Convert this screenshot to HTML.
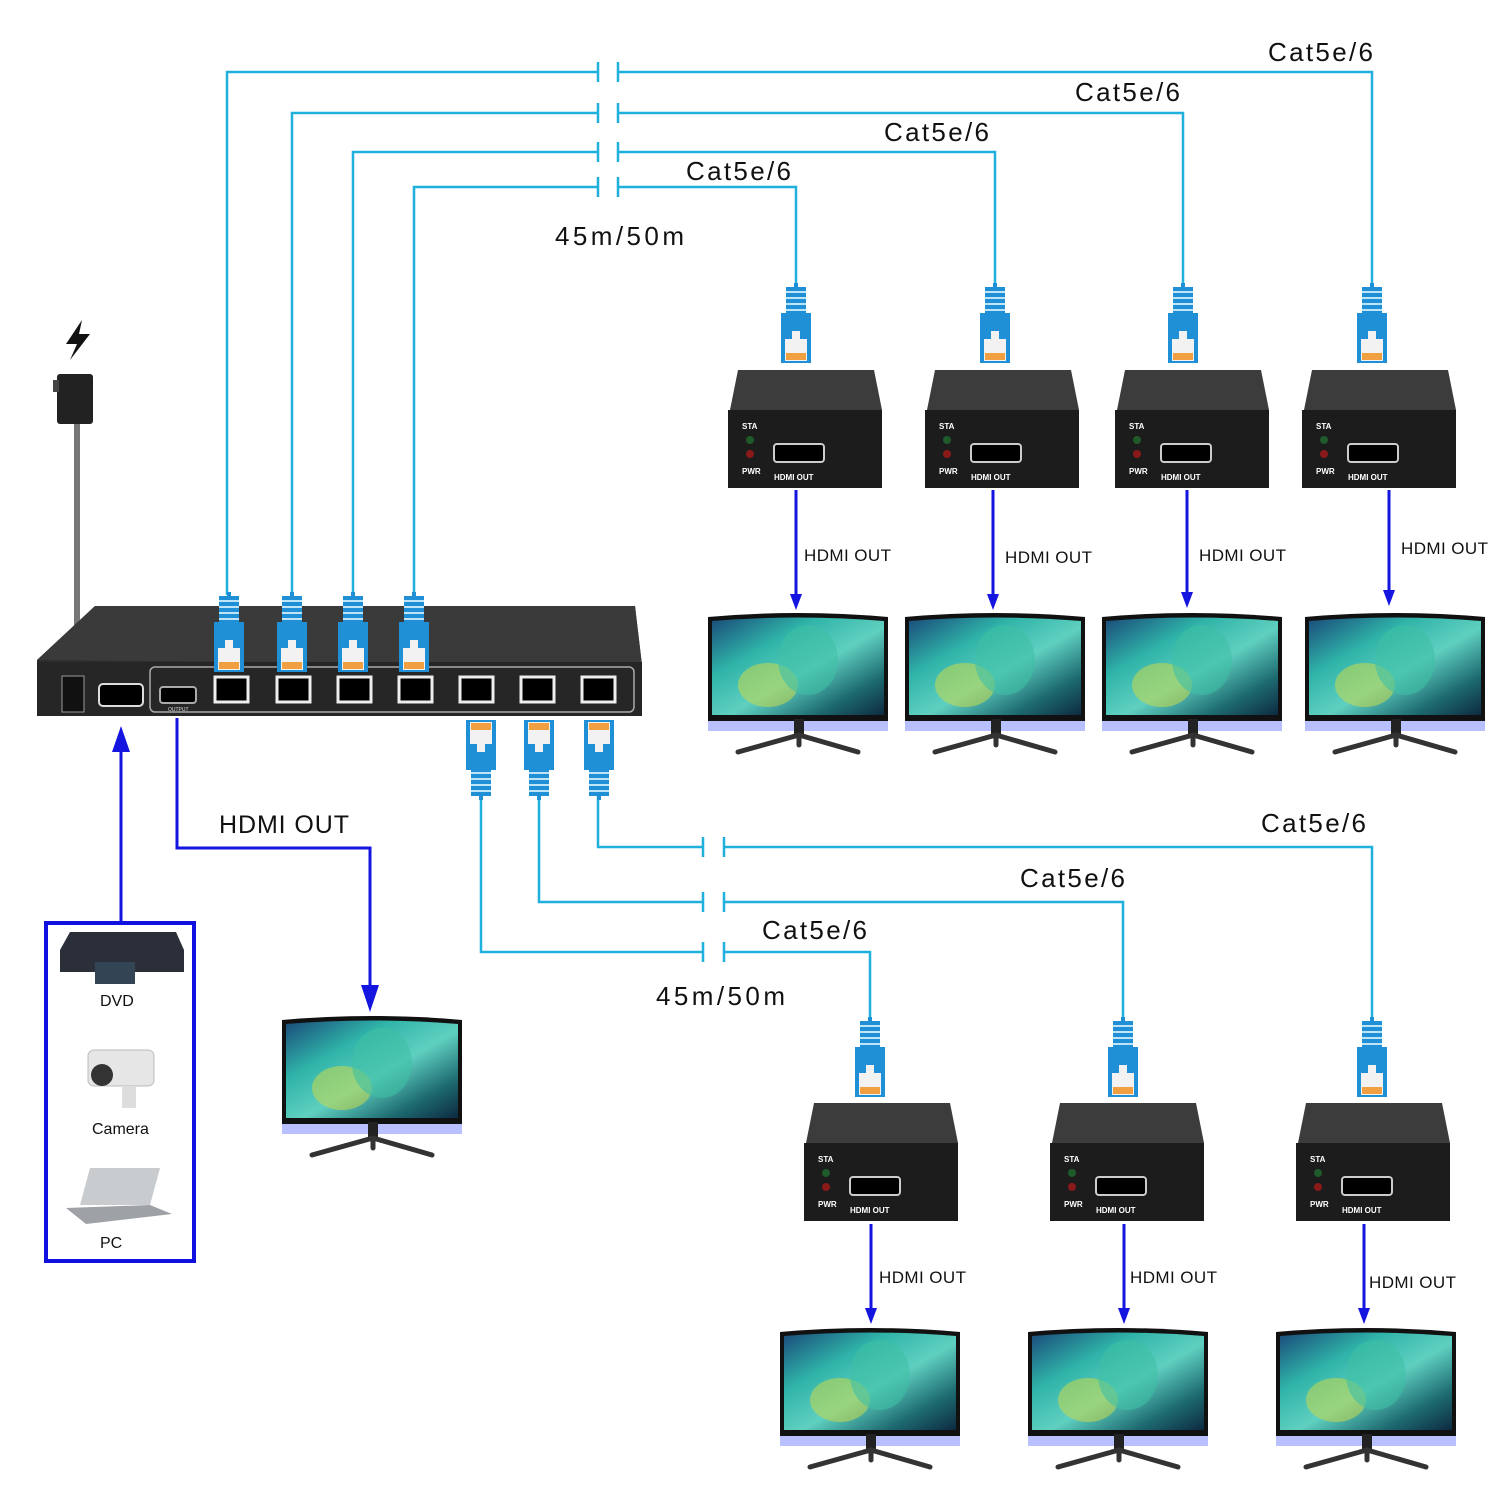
<!DOCTYPE html>
<html><head><meta charset="utf-8"><style>
html,body{margin:0;padding:0;background:#fff}
svg{display:block}
text{font-family:"Liberation Sans","DejaVu Sans",sans-serif}
</style></head><body>
<svg width="1500" height="1500" viewBox="0 0 1500 1500" xmlns="http://www.w3.org/2000/svg">
<defs>
<linearGradient id="scr" x1="0" y1="0" x2="1" y2="1">
<stop offset="0" stop-color="#1a4a7a"/><stop offset="0.3" stop-color="#2fb3a8"/><stop offset="0.55" stop-color="#5fd0c0"/><stop offset="0.8" stop-color="#1d6a70"/><stop offset="1" stop-color="#0d2a40"/>
</linearGradient>
<g id="mon">
<path d="M0,2 Q90,-6 180,2 L180,106 L0,106 Z" fill="#111"/>
<path d="M4,6 Q90,-1 176,6 L176,100 L4,100 Z" fill="url(#scr)"/>
<ellipse cx="60" cy="70" rx="30" ry="22" fill="#c8d84a" opacity="0.55"/>
<ellipse cx="100" cy="45" rx="30" ry="35" fill="#3fbfa5" opacity="0.6"/>
<rect x="0" y="106" width="180" height="10" fill="#b8c0ff"/>
<rect x="86" y="104" width="10" height="18" fill="#222"/>
<path d="M91,120 L30,137 M91,120 L150,137 M91,120 L91,130" stroke="#333" stroke-width="5" stroke-linecap="round"/>
</g>
<g id="rx">
<polygon points="2,40 10,0 146,0 154,40" fill="#3c3c3c"/>
<rect x="0" y="40" width="154" height="78" fill="#1c1c1c"/>
<circle cx="22" cy="70" r="4" fill="#1f5a2a"/><circle cx="22" cy="84" r="4" fill="#8a1a1a"/>
<rect x="46" y="74" width="50" height="18" rx="3" fill="#000" stroke="#ccc" stroke-width="2"/>
<text x="14" y="59" font-size="8" font-weight="bold" fill="#fff">STA</text>
<text x="14" y="104" font-size="8" font-weight="bold" fill="#fff">PWR</text>
<text x="46" y="110" font-size="8" font-weight="bold" fill="#fff">HDMI OUT</text>
</g>
<g id="plug">
<rect x="-2" y="0" width="4" height="4" fill="#1f8fd6"/>
<rect x="-10" y="4" width="20" height="28" fill="#1f8fd6"/>
<path d="M-10,9 H10 M-10,15 H10 M-10,21 H10 M-10,27 H10" stroke="#bfe4f8" stroke-width="2"/>
<rect x="-15" y="30" width="30" height="50" fill="#1f8fd6"/>
<rect x="-11" y="56" width="22" height="22" fill="#f2f2f2"/>
<rect x="-4" y="48" width="8" height="10" fill="#f2f2f2"/>
<rect x="-10" y="70" width="20" height="7" fill="#f0a040"/>
</g>
</defs>

<g fill="none" stroke="#1fb0dc" stroke-width="2.5">
<path d="M227,595 V72 H598 M618,72 H1372 V285"/>
<path d="M292,595 V113 H598 M618,113 H1183 V285"/>
<path d="M353,595 V152 H598 M618,152 H995 V285"/>
<path d="M414,595 V187 H598 M618,187 H796 V285"/>
<path d="M598,62 V82 M618,62 V82 M598,103 V123 M618,103 V123 M598,142 V162 M618,142 V162 M598,177 V197 M618,177 V197"/>
<path d="M598,720 V847 H703 M724,847 H1372 V1018"/>
<path d="M539,720 V902 H703 M724,902 H1123 V1018"/>
<path d="M481,720 V952 H703 M724,952 H870 V1018"/>
<path d="M703,837 V857 M724,837 V857 M703,892 V912 M724,892 V912 M703,942 V962 M724,942 V962"/>
</g>
<g font-size="26" fill="#111">
<text x="1268" y="61" textLength="105">Cat5e/6</text>
<text x="1075" y="101" textLength="105">Cat5e/6</text>
<text x="884" y="141" textLength="105">Cat5e/6</text>
<text x="686" y="180" textLength="105">Cat5e/6</text>
<text x="555" y="245" textLength="129">45m/50m</text>
<text x="1261" y="832" textLength="105">Cat5e/6</text>
<text x="1020" y="887" textLength="105">Cat5e/6</text>
<text x="762" y="939" textLength="105">Cat5e/6</text>
<text x="656" y="1005" textLength="129">45m/50m</text>
</g>

<path d="M82,320 L66,344 L77,344 L70,360 L90,334 L79,334 Z" fill="#111"/>
<rect x="57" y="374" width="36" height="50" rx="3" fill="#222"/>
<rect x="53" y="380" width="6" height="12" fill="#444"/>
<rect x="74" y="424" width="6" height="240" fill="#777"/>

<polygon points="37,660 95,606 635,606 642,665 642,715 37,715" fill="#2e2e2e"/>
<polygon points="37,660 95,606 635,606 642,665" fill="#3a3a3a"/>
<rect x="37" y="662" width="605" height="54" fill="#262626"/>
<rect x="150" y="667" width="484" height="45" rx="5" fill="none" stroke="#aaa" stroke-width="1.5"/>
<rect x="62" y="676" width="22" height="36" fill="#111" stroke="#999"/>
<rect x="99" y="684" width="44" height="22" rx="4" fill="#000" stroke="#ddd" stroke-width="2"/>
<rect x="160" y="687" width="36" height="16" rx="3" fill="#000" stroke="#aaa" stroke-width="2"/>
<g fill="#000" stroke="#eee" stroke-width="3">
<rect x="215" y="677" width="33" height="25"/><rect x="277" y="677" width="33" height="25"/><rect x="338" y="677" width="33" height="25"/><rect x="399" y="677" width="33" height="25"/><rect x="460" y="677" width="33" height="25"/><rect x="521" y="677" width="33" height="25"/><rect x="582" y="677" width="33" height="25"/>
</g>
<text x="168" y="711" font-size="5" fill="#ddd">OUTPUT</text>

<use href="#plug" x="229" y="592"/><use href="#plug" x="292" y="592"/><use href="#plug" x="353" y="592"/><use href="#plug" x="414" y="592"/>
<use href="#plug" transform="translate(481,800) scale(1,-1)"/>
<use href="#plug" transform="translate(539,800) scale(1,-1)"/>
<use href="#plug" transform="translate(599,800) scale(1,-1)"/>

<use href="#plug" x="796" y="283"/><use href="#plug" x="995" y="283"/><use href="#plug" x="1183" y="283"/><use href="#plug" x="1372" y="283"/>
<use href="#rx" x="728" y="370"/><use href="#rx" x="925" y="370"/><use href="#rx" x="1115" y="370"/><use href="#rx" x="1302" y="370"/>
<use href="#plug" x="870" y="1017"/><use href="#plug" x="1123" y="1017"/><use href="#plug" x="1372" y="1017"/>
<use href="#rx" x="804" y="1103"/><use href="#rx" x="1050" y="1103"/><use href="#rx" x="1296" y="1103"/>

<use href="#mon" x="708" y="615"/><use href="#mon" x="905" y="615"/><use href="#mon" x="1102" y="615"/><use href="#mon" x="1305" y="615"/>
<use href="#mon" x="282" y="1018"/>
<use href="#mon" x="780" y="1330"/><use href="#mon" x="1028" y="1330"/><use href="#mon" x="1276" y="1330"/>

<g stroke="#1515e0" stroke-width="3" fill="none">
<path d="M796,490 V596 M993,490 V596 M1187,490 V594 M1389,490 V592"/>
<path d="M871,1224 V1310 M1124,1224 V1310 M1364,1224 V1310"/>
<path d="M177,718 V848 H370 V995"/>
<path d="M121,922 V745"/>
</g>
<g fill="#1515e0">
<path d="M790,594 L802,594 L796,610 Z"/><path d="M987,594 L999,594 L993,610 Z"/><path d="M1181,592 L1193,592 L1187,608 Z"/><path d="M1383,590 L1395,590 L1389,606 Z"/>
<path d="M865,1308 L877,1308 L871,1324 Z"/><path d="M1118,1308 L1130,1308 L1124,1324 Z"/><path d="M1358,1308 L1370,1308 L1364,1324 Z"/>
<path d="M361,985 L379,985 L370,1012 Z"/>
<path d="M112,752 L130,752 L121,726 Z"/>
</g>
<g font-size="17" fill="#111">
<text x="804" y="561" textLength="87">HDMI OUT</text><text x="1005" y="563" textLength="87">HDMI OUT</text><text x="1199" y="561" textLength="87">HDMI OUT</text><text x="1401" y="554" textLength="87">HDMI OUT</text>
<text x="879" y="1283" textLength="87">HDMI OUT</text><text x="1130" y="1283" textLength="87">HDMI OUT</text><text x="1369" y="1288" textLength="87">HDMI OUT</text>
</g>
<text x="219" y="833" font-size="25" fill="#111" textLength="130">HDMI OUT</text>

<rect x="46" y="923" width="148" height="338" fill="none" stroke="#1010e0" stroke-width="4"/>
<polygon points="60,950 70,932 176,932 184,950 184,972 60,972" fill="#2a2f3a"/>
<rect x="95" y="962" width="40" height="22" fill="#345"/>
<text x="100" y="1006" font-size="16" fill="#111">DVD</text>
<rect x="88" y="1050" width="66" height="36" rx="6" fill="#e6e6e6" stroke="#bbb"/>
<circle cx="102" cy="1075" r="11" fill="#333"/>
<rect x="122" y="1086" width="14" height="22" fill="#ddd"/>
<text x="92" y="1134" font-size="16" fill="#111">Camera</text>
<polygon points="90,1168 160,1168 150,1205 80,1205" fill="#c9cccf"/>
<polygon points="66,1208 150,1205 172,1214 86,1224" fill="#9ea2a6"/>
<text x="100" y="1248" font-size="16" fill="#111">PC</text>
</svg>
</body></html>
